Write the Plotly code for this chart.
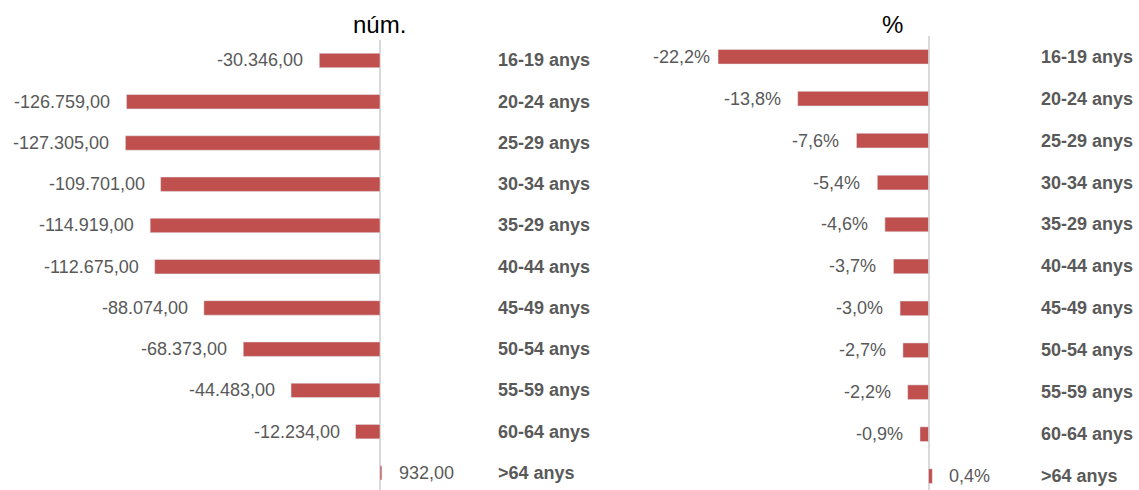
import plotly.graph_objects as go

categories = ["16-19 anys", "20-24 anys", "25-29 anys", "30-34 anys", "35-29 anys",
              "40-44 anys", "45-49 anys", "50-54 anys", "55-59 anys", "60-64 anys", ">64 anys"]
num_values = [-30346, -126759, -127305, -109701, -114919, -112675, -88074, -68373, -44483, -12234, 932]
pct_values = [-22.2, -13.8, -7.6, -5.4, -4.6, -3.7, -3.0, -2.7, -2.2, -0.9, 0.4]
titles = ["núm.", "%"]

W, H = 1139, 490
BAR = "#C0504D"
TXT = "#595959"
FONT = "Liberation Sans, Arial, sans-serif"


def fmt_num(v):
    s = f"{abs(v):,.2f}".replace(",", "X").replace(".", ",").replace("X", ".")
    return ("-" if v < 0 else "") + s


def fmt_pct(v):
    s = f"{abs(v):.1f}".replace(".", ",") + "%"
    return ("-" if v < 0 else "") + s


idx = list(range(len(categories)))

fig = go.Figure()
fig.add_trace(go.Bar(x=num_values, y=idx, orientation="h", marker_color=BAR,
                     width=0.35, xaxis="x", yaxis="y", hoverinfo="skip"))
fig.add_trace(go.Bar(x=pct_values, y=idx, orientation="h", marker_color=BAR,
                     width=0.35, xaxis="x2", yaxis="y2", hoverinfo="skip"))

ann = []
# data labels
for i, v in enumerate(num_values):
    ann.append(dict(x=v, y=i, xref="x", yref="y", text=fmt_num(v), showarrow=False,
                    xanchor="right" if v < 0 else "left", xshift=-14 if v < 0 else 15,
                    font=dict(size=18, color=TXT, family=FONT)))
for i, v in enumerate(pct_values):
    shift = 15
    if i == 0:
        shift = 6
    ann.append(dict(x=v, y=i, xref="x2", yref="y2", text=fmt_pct(v), showarrow=False,
                    xanchor="right" if v < 0 else "left", xshift=-shift if v < 0 else shift,
                    font=dict(size=18, color=TXT, family=FONT)))
# category labels
for i, c in enumerate(categories):
    ann.append(dict(x=496 / W, y=i, xref="paper", yref="y", text="<b>%s</b>" % c,
                    showarrow=False, xanchor="left",
                    font=dict(size=18, color=TXT, family=FONT)))
    ann.append(dict(x=1039 / W, y=i, xref="paper", yref="y2", text="<b>%s</b>" % c,
                    showarrow=False, xanchor="left",
                    font=dict(size=18, color=TXT, family=FONT)))
# titles
ann.append(dict(x=379.5 / W, y=1 - 25 / H, xref="paper", yref="paper", text=titles[0],
                showarrow=False, xanchor="center", yanchor="middle",
                font=dict(size=24, color="#000000", family=FONT)))
ann.append(dict(x=892 / W, y=1 - 25 / H, xref="paper", yref="paper", text=titles[1],
                showarrow=False, xanchor="center", yanchor="middle",
                font=dict(size=24, color="#000000", family=FONT)))

axis_common = dict(showgrid=False, showticklabels=False, ticks="", showline=False,
                   zeroline=True, zerolinecolor="#D9D9D9", zerolinewidth=2, fixedrange=True)

fig.update_layout(
    width=W, height=H,
    margin=dict(l=0, r=0, t=0, b=0),
    paper_bgcolor="white", plot_bgcolor="white",
    showlegend=False,
    xaxis=dict(domain=[0, 480 / W], range=[-190000, 50000], anchor="y", **axis_common),
    yaxis=dict(domain=[0, 1 - 40 / H], range=[10.415, -0.497], anchor="x", fixedrange=True,
               showgrid=False, showticklabels=False, ticks="", zeroline=False, showline=False),
    xaxis2=dict(domain=[640 / W, 1000 / W], range=[-30.43, 7.54], anchor="y2", **axis_common),
    yaxis2=dict(domain=[0, 1 - 36 / H], range=[10.331, -0.494], anchor="x2", fixedrange=True,
                showgrid=False, showticklabels=False, ticks="", zeroline=False, showline=False),
    annotations=ann,
    font=dict(family=FONT),
)

fig.write_html("out.html", config={"displayModeBar": False},
               post_script="document.body.style.margin='0';document.body.style.overflow='hidden';")
